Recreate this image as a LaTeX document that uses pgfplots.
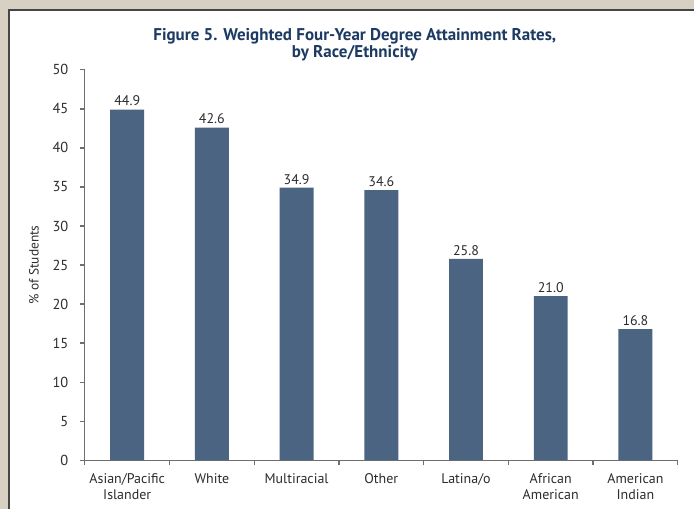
\documentclass[border=0pt]{standalone}
\usepackage{fontspec}
\setmainfont{PT Sans}
\usepackage{pgfplots}
\pgfplotsset{compat=1.18}
\definecolor{beige}{RGB}{216,208,195}
\definecolor{frame}{RGB}{70,70,70}
\definecolor{barblue}{RGB}{75,100,130}
\definecolor{titleblue}{RGB}{28,58,98}
\definecolor{txt}{RGB}{45,45,45}
\definecolor{axisgray}{RGB}{110,110,110}
\begin{document}
\begin{tikzpicture}
\begin{axis}[
  set layers, clip=false,
  scale only axis, width=594pt, height=391pt,
  xmin=-0.5, xmax=6.5, ymin=0, ymax=50,
  axis x line*=bottom, axis y line*=left,
  axis line style={axisgray, line width=1.2pt},
  ytick={0,5,...,50},
  xtick={0,...,6},
  xticklabels={{Asian/Pacific\\Islander},White,Multiracial,Other,Latina/o,{African\\American},{American\\Indian}},
  minor xtick={-0.5,0.5,...,6.5},
  tick align=outside,
  major tick length=5pt, minor tick length=5pt,
  x tick style={draw=none},
  minor x tick style={draw=axisgray, line width=1.2pt},
  y tick style={axisgray, line width=1.2pt},
  /pgf/number format/assume math mode=true,
  tick label style={txt},
  xticklabel style={align=center, yshift=-5pt, font=\fontsize{14}{16}\selectfont},
  yticklabel style={xshift=-8pt, font=\fontsize{14.5}{16}\selectfont},
  ylabel={\% of Students},
  ylabel style={at={(axis description cs:-0.0859,0.5)}, anchor=center, txt, font=\fontsize{13.4}{15}\selectfont},
  nodes near coords,
  nodes near coords style={txt, font=\fontsize{14}{16}\selectfont, /pgf/number format/.cd, fixed, fixed zerofill, precision=1, assume math mode=true},
]
\begin{pgfonlayer}{axis background}
\fill[beige] (axis description cs:-0.14310,-0.12532) rectangle (axis description cs:1.02694,1.17903);
\fill[white] (axis description cs:-0.12963,-0.12532) rectangle (axis description cs:1.02694,1.15601);
\draw[frame,line width=2.5pt] (axis description cs:-0.12753,-0.12532) -- (axis description cs:-0.12753,1.15281) -- (axis description cs:1.02694,1.15281);
\end{pgfonlayer}
\node[titleblue,font=\bfseries\fontsize{17}{18}\selectfont,anchor=base] at (axis description cs:0.45539,1.07417)
  {Figure 5. Weighted Four-Year Degree Attainment Rates,};
\node[titleblue,font=\bfseries\fontsize{17}{18}\selectfont,anchor=base] at (axis description cs:0.45539,1.03069)
  {by Race/Ethnicity};
\addplot[ybar, bar width=34pt, fill=barblue, draw=none] coordinates {
(0,44.9) (1,42.6) (2,34.9) (3,34.6) (4,25.8) (5,21.0) (6,16.8)};
\end{axis}
\end{tikzpicture}
\end{document}
